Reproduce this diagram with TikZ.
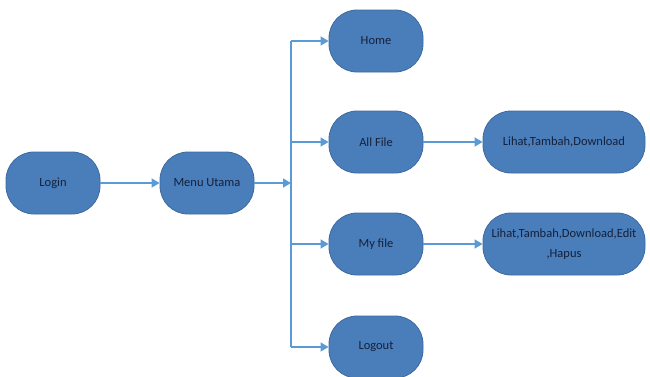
\documentclass[tikz,border=0pt]{standalone}
\usepackage{fontspec}
\setmainfont{Carlito}
\usetikzlibrary{arrows.meta}
\definecolor{boxfill}{HTML}{4A7EBB}
\definecolor{boxedge}{HTML}{3D6A9E}
\definecolor{linkblue}{HTML}{5B9BD5}
\definecolor{labeltext}{HTML}{15203A}
\tikzset{
  menubox/.style={draw=boxedge, line width=0.8pt, fill=boxfill,
    rounded corners=28pt, minimum height=62pt, inner sep=0pt,
    text=labeltext, font=\fontsize{12.5}{20}\selectfont, align=center},
  smallbox/.style={menubox, minimum width=94pt},
  widebox/.style={menubox, minimum width=162pt},
  link/.style={draw=linkblue, line width=1.4pt,
    -{Triangle[length=8pt, width=9pt]}},
  trunk/.style={draw=linkblue, line width=1.4pt}
}
\begin{document}
\begin{tikzpicture}[x=1pt, y=-1pt]
  \useasboundingbox (0,0) rectangle (650,376);

  % main chain
  \node[smallbox] (login) at (53,183) {Login};
  \node[smallbox] (menu)  at (207,183) {Menu Utama};

  % menu entries
  \node[smallbox] (home)   at (376,41)  {Home};
  \node[smallbox] (all)    at (376,142) {All File};
  \node[smallbox] (my)     at (376,244) {My file};
  \node[smallbox] (logout) at (376,347) {Logout};

  % actions
  \node[widebox] (allact) at (564,142) {Lihat,Tambah,Download};
  \node[widebox] (myact)  at (564,244) {Lihat,Tambah,Download,Edit\\,Hapus};

  % branching line
  \coordinate (top) at (291,41);
  \coordinate (bot) at (291,347);
  \coordinate (hub) at (291,183);
  \draw[trunk] (top) -- (bot);

  \draw[link] (login) -- (menu);
  \draw[link] (menu.east) -- (hub);
  \draw[link] (top) -- (home.west);
  \draw[link] (291,142) -- (all.west);
  \draw[link] (291,244) -- (my.west);
  \draw[link] (bot) -- (logout.west);

  \draw[link] (all) -- (allact);
  \draw[link] (my) -- (myact);
\end{tikzpicture}
\end{document}
